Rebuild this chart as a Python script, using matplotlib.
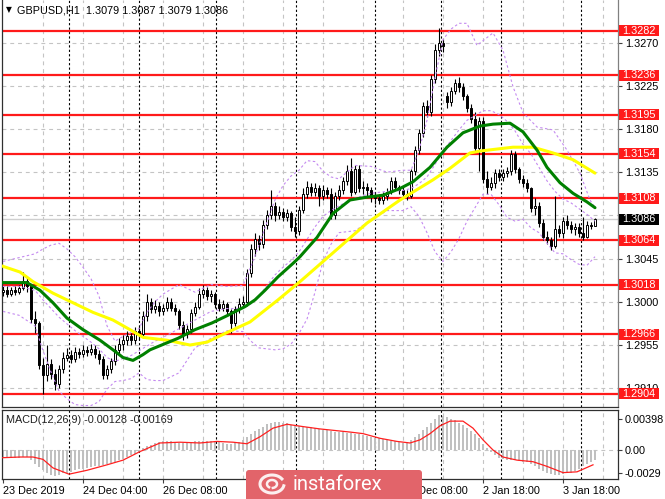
import matplotlib
matplotlib.use("Agg")
import matplotlib.pyplot as plt
import matplotlib.transforms as mtransforms
from matplotlib.patches import Rectangle, FancyBboxPatch
import numpy as np

plt.rcParams['font.family'] = ['Liberation Sans', 'DejaVu Sans']

W, H, DPI = 665, 499, 100

# ---------------- data (prices in units of 0.0001) ----------------
opens = [13010, 13012, 13008, 13012, 13010, 13014, 13022, 13016, 12982, 12978,
         12934, 12924, 12935, 12925, 12914, 12930, 12942, 12945, 12940, 12948,
         12946, 12950, 12948, 12951, 12946, 12940, 12924, 12930, 12938, 12950,
         12956, 12960, 12964, 12960, 12970, 12966, 12985, 13000, 12992, 12996,
         12990, 12994, 13000, 12994, 12990, 12976, 12966, 12972, 12988, 12995,
         13008, 13012, 13006, 13008, 12998, 12994, 12998, 12990, 12978, 12992,
         12998, 13000, 13030, 13055, 13065, 13060, 13080, 13090, 13100, 13090,
         13094, 13088, 13092, 13078, 13074, 13096, 13112, 13120, 13114, 13118,
         13110, 13116, 13112, 13090, 13110, 13116, 13126, 13136, 13114, 13138,
         13118, 13120, 13116, 13110, 13108, 13106, 13110, 13114, 13126, 13120,
         13116, 13112, 13110, 13136, 13158, 13176, 13204, 13198, 13232, 13262,
         13270, 13214, 13208, 13220, 13228, 13224, 13214, 13202, 13190, 13160,
         13188, 13128, 13120, 13124, 13134, 13130, 13134, 13136, 13154, 13138,
         13128, 13124, 13118, 13098, 13100, 13082, 13068, 13064, 13058, 13076,
         13072, 13084, 13080, 13076, 13078, 13072, 13068, 13080, 13079]
highs = [13016, 13016, 13015, 13016, 13018, 13031, 13026, 13018, 12990, 12980,
         12942, 12955, 12940, 12930, 12934, 12948, 12952, 12950, 12953, 12952,
         12955, 12954, 12956, 12955, 12950, 12944, 12934, 12942, 12955, 12962,
         12965, 12970, 12968, 12974, 12975, 12990, 13008, 13004, 13002, 13000,
         12998, 13005, 13004, 12998, 12993, 12980, 12976, 12992, 13000, 13014,
         13018, 13015, 13012, 13010, 13003, 13002, 13000, 12993, 12996, 13004,
         13006, 13034, 13060, 13072, 13070, 13085, 13096, 13116, 13104, 13100,
         13098, 13097, 13095, 13088, 13100, 13118, 13126, 13124, 13124, 13122,
         13122, 13120, 13118, 13114, 13122, 13130, 13142, 13150, 13142, 13142,
         13126, 13124, 13120, 13114, 13112, 13114, 13118, 13130, 13130, 13122,
         13120, 13116, 13138, 13162, 13180, 13208, 13210, 13236, 13268, 13285,
         13274, 13218, 13224, 13232, 13234, 13228, 13216, 13206, 13198, 13192,
         13192, 13136, 13130, 13138, 13138, 13138, 13140, 13158, 13157, 13140,
         13132, 13128, 13120, 13108, 13104, 13086, 13074, 13068, 13110, 13080,
         13088, 13090, 13084, 13082, 13082, 13088, 13084, 13083, 13087]
lows = [13006, 13005, 13006, 13007, 13008, 13012, 13010, 12978, 12968, 12930,
        12904, 12918, 12920, 12908, 12910, 12926, 12938, 12936, 12937, 12942,
        12943, 12944, 12945, 12942, 12935, 12920, 12920, 12926, 12934, 12946,
        12950, 12955, 12955, 12956, 12960, 12962, 12980, 12988, 12988, 12985,
        12986, 12990, 12990, 12986, 12972, 12960, 12962, 12968, 12985, 12992,
        13004, 13002, 13000, 12994, 12990, 12990, 12985, 12968, 12975, 12988,
        12994, 12996, 13026, 13048, 13054, 13056, 13076, 13086, 13084, 13086,
        13084, 13084, 13074, 13068, 13070, 13092, 13108, 13110, 13110, 13100,
        13106, 13108, 13086, 13086, 13106, 13112, 13122, 13110, 13112, 13114,
        13112, 13110, 13104, 13102, 13102, 13102, 13106, 13112, 13116, 13112,
        13108, 13106, 13108, 13132, 13154, 13172, 13192, 13194, 13228, 13256,
        13260, 13202, 13204, 13216, 13218, 13210, 13198, 13186, 13156, 13136,
        13124, 13112, 13116, 13118, 13126, 13126, 13130, 13132, 13134, 13124,
        13120, 13114, 13094, 13090, 13078, 13064, 13060, 13054, 13056, 13068,
        13066, 13076, 13072, 13070, 13068, 13064, 13066, 13076, 13079]
closes = [13012, 13008, 13012, 13010, 13014, 13022, 13016, 12982, 12978, 12934,
          12924, 12935, 12925, 12914, 12930, 12942, 12945, 12940, 12948, 12946,
          12950, 12948, 12951, 12946, 12940, 12924, 12930, 12938, 12950, 12956,
          12960, 12964, 12960, 12970, 12966, 12985, 13000, 12992, 12996, 12990,
          12994, 13000, 12994, 12990, 12976, 12966, 12972, 12988, 12995, 13008,
          13012, 13006, 13008, 12998, 12994, 12998, 12990, 12978, 12992, 12998,
          13000, 13030, 13055, 13065, 13060, 13080, 13090, 13100, 13090, 13094,
          13088, 13092, 13078, 13074, 13096, 13112, 13120, 13114, 13118, 13110,
          13116, 13112, 13090, 13110, 13116, 13126, 13136, 13114, 13138, 13118,
          13120, 13116, 13110, 13108, 13106, 13110, 13114, 13126, 13120, 13116,
          13112, 13110, 13136, 13158, 13176, 13204, 13198, 13232, 13262, 13270,
          13266, 13208, 13220, 13228, 13224, 13214, 13202, 13190, 13160, 13188,
          13128, 13120, 13124, 13134, 13130, 13134, 13136, 13154, 13138, 13128,
          13124, 13118, 13098, 13100, 13082, 13068, 13064, 13058, 13076, 13072,
          13084, 13080, 13076, 13078, 13072, 13068, 13080, 13079, 13086]

# moving averages (bar index, price in 0.0001)
green_idx = [-0.75, 6, 9.25, 12.5, 16, 20, 24.25, 27.5, 30, 32.5,
             35, 36.75, 43.75, 48, 52.25, 56.25, 60.5, 63, 65.5, 68.75,
             72.5, 74.25, 78.5, 82.5, 86.75, 91, 95, 99.25, 102.5, 106.75,
             111, 115, 119.25, 122.5, 126.75, 130, 133.5, 136, 139.25, 142.5,
             146, 148]
green_val = [13020, 13020, 13012, 12999, 12983, 12971, 12960, 12950, 12942, 12939,
             12945, 12950, 12962, 12971, 12978, 12986, 12995, 13002, 13012, 13026,
             13040, 13047, 13067, 13092, 13106, 13109, 13111, 13118, 13125, 13140,
             13161, 13176, 13183, 13185, 13186, 13177, 13158, 13140, 13124, 13113,
             13104, 13098]
yellow_idx = [-0.75, 4.25, 7.5, 12.5, 17.5, 22.5, 27.5, 31.75, 35, 41,
              46.75, 51, 56, 61.75, 68.75, 74.25, 82.5, 91, 99.25, 107.5,
              111.75, 116.75, 119.25, 127.5, 132.5, 137.5, 142.5, 148]
yellow_val = [13038, 13031, 13021, 13009, 12999, 12989, 12981, 12971, 12963, 12960,
              12955, 12958, 12968, 12979, 13002, 13021, 13051, 13082, 13106, 13127,
              13139, 13155, 13157, 13161, 13161, 13155, 13148, 13134]

# Bollinger bands (bar index, price offset from 1.3000 in 0.0001)
bb_idx = [0, 4, 8, 10, 12, 14, 16, 18, 20, 22,
          24, 26, 28, 30, 32, 34, 36, 38, 40, 44,
          48, 52, 56, 60, 62, 64, 66, 68, 70, 72,
          74, 76, 78, 80, 82, 84, 88, 92, 96, 100,
          102, 104, 106, 108, 110, 112, 114, 116, 118, 120,
          122, 124, 126, 128, 130, 132, 134, 136, 138, 140,
          142, 144, 146, 148]
bb_mid = [16, 16, 12, 2, -7, -16, -23, -30, -36, -42,
          -49, -58, -62, -59, -56, -51, -46, -41, -37, -28,
          -19, -10, -7, -7, -2, 6, 17, 28, 36, 43,
          52, 65, 78, 89, 95, 100, 108, 113, 115, 116,
          118, 123, 130, 143, 157, 168, 179, 189, 194, 199,
          199, 195, 188, 178, 164, 154, 140, 126, 115, 107,
          103, 97, 91, 84]
bb_low = [-10, -14, -25, -51, -73, -93, -101, -107, -108, -108,
          -104, -91, -83, -82, -80, -74, -81, -82, -82, -74,
          -48, -38, -30, -31, -41, -48, -49, -50, -49, -44,
          -33, -18, 10, 42, 60, 72, 74, 85, 95, 95,
          99, 89, 72, 52, 42, 52, 66, 84, 98, 112,
          112, 101, 88, 84, 86, 77, 72, 61, 51, 50,
          44, 39, 38, 47]
bb_up_idx = [0, 4, 8, 10, 12, 14, 16, 18, 20, 22,
             24, 26, 28, 30, 32, 34, 36, 38, 40, 44,
             48, 52, 56, 60, 62, 64, 66, 68, 70, 72,
             74, 76, 78, 80, 82, 84, 88, 92, 96, 100,
             102, 104, 106, 108, 110, 112, 114, 116, 118.5, 122.5,
             125, 127.5, 130, 133.5, 137.5, 141, 144.25, 146.75, 148]
bb_up = [42, 46, 50, 55, 59, 61, 55, 47, 36, 24,
         6, -25, -41, -36, -32, -28, -11, 0, 8, 18,
         10, 18, 16, 17, 37, 59, 83, 106, 121, 131,
         137, 147, 146, 136, 130, 128, 142, 141, 135, 137,
         137, 158, 189, 233, 273, 284, 290, 290, 267, 280,
         262, 224, 197, 182, 179, 158, 134, 106, 98]

# MACD histogram (one per bar) and signal line
macd_hist = [-0.0009, -0.0009, -0.0010, -0.0010, -0.0010, -0.0009, -0.0009,
             -0.0013, -0.0018, -0.0022, -0.0026,
             -0.0029, -0.0032, -0.0033, -0.0032,
             -0.0030, -0.0029, -0.0028, -0.0026, -0.0025,
             -0.0024, -0.0023, -0.0022, -0.0021, -0.0020, -0.0019, -0.0018, -0.0017,
             -0.0015, -0.0013, -0.0011, -0.0009, -0.0007, -0.0005,
             -0.0002, 0.0002, 0.0005, 0.0007, 0.0009,
             0.0010, 0.0011, 0.0011, 0.0011, 0.0010, 0.0009, 0.0009, 0.0009,
             0.0010, 0.0011, 0.0012, 0.0012, 0.0012, 0.0011, 0.0011, 0.0010, 0.0009, 0.0008, 0.0008, 0.0009,
             0.0010, 0.0013, 0.0017, 0.0021, 0.0024, 0.0027, 0.0030, 0.0033,
             0.0035, 0.0036, 0.0036, 0.0035, 0.0034,
             0.0032, 0.0031, 0.0031, 0.0030, 0.0030, 0.0029, 0.0028, 0.0027, 0.0026, 0.0025, 0.0024,
             0.0023, 0.0023, 0.0023, 0.0022, 0.0022, 0.0021, 0.0020, 0.0019, 0.0018, 0.0017, 0.0016, 0.0015,
             0.0014, 0.0013, 0.0012, 0.0011, 0.0010, 0.0009, 0.0010, 0.0013, 0.0017,
             0.0021, 0.0025, 0.0030, 0.0035, 0.0040, 0.0045,
             0.0044, 0.0042, 0.0040, 0.0038,
             0.0035, 0.0032, 0.0028, 0.0024, 0.0020, 0.0015,
             0.0008, 0.0002, -0.0003, -0.0007, -0.0010,
             -0.0012, -0.0013, -0.0013, -0.0013, -0.0014, -0.0015, -0.0016,
             -0.0018, -0.0021, -0.0024, -0.0027, -0.0029, -0.0031, -0.0032,
             -0.0032, -0.0031, -0.0030, -0.0029, -0.0027,
             -0.0024, -0.0021, -0.0018, -0.0015, -0.0013]
sig_idx = [-0.75, 4.25, 7.5, 10, 12.5, 16.5, 21, 26, 30, 34.25,
           39.25, 44.25, 49.25, 53.5, 57.5, 61, 64.25, 67.5, 71, 75,
           79.25, 86.75, 90, 94.25, 98.5, 101.75, 104.25, 106.75, 109.25, 111.75,
           115, 117.5, 120, 122.5, 125, 128.5, 132.5, 136, 140, 143.5, 147.5]
sig_val = [-0.0010, -0.0009, -0.0009, -0.0012, -0.0023, -0.0031, -0.0026, -0.0019, -0.0013, -0.0002,
           0.0009, 0.0010, 0.0009, 0.0011, 0.0010, 0.0008, 0.0017, 0.0028, 0.0033, 0.0030,
           0.0027, 0.0023, 0.0021, 0.0015, 0.0011, 0.0009, 0.0013, 0.0021, 0.0031, 0.0037,
           0.0037, 0.0028, 0.0013, 0.0000, -0.0009, -0.0013, -0.0015, -0.0021, -0.0029, -0.0028,
           -0.0019]

levels = [1.3282, 1.3236, 1.3195, 1.3154, 1.3108, 1.3064, 1.3018, 1.2966, 1.2904]
price_ticks = [1.3270, 1.3225, 1.3180, 1.3135, 1.3090, 1.3045, 1.3000, 1.2955, 1.2910]
hidden_ticks = [1.3090]          # label fully covered by the last-price box
last_price = 1.3086
time_label_bars = [0, 20, 40, 100, 120, 140]
time_labels = ['23 Dec 2019', '24 Dec 04:00', '26 Dec 08:00', '31 Dec 08:00',
               '2 Jan 18:00', '3 Jan 18:00']
day_sep_bars = [16.5, 34, 53.25, 73.25, 93, 109.5, 124.5, 144.5]
grid_bars = list(range(10, 160, 10))
macd_ticks = [0.00398, 0.0, -0.0029]
macd_ticklabels = ['0.00398', '0.00', '-0.0029']
title_text = 'GBPUSD,H1  1.3079 1.3087 1.3079 1.3086'
macd_text = 'MACD(12,26,9) -0.00128 -0.00169'

# ---------------- figure layout ----------------
fig = plt.figure(figsize=(W / DPI, H / DPI), dpi=DPI)
fig.patch.set_facecolor('white')
PL, PR = 2, 618
ax = fig.add_axes([PL / W, 1 - 407 / H, (PR - PL) / W, 407 / H])
axm = fig.add_axes([PL / W, 1 - 479 / H, (PR - PL) / W, (479 - 410) / H])

XMIN, XMAX = -0.25, 153.75
FS = 7.8
GRID_C = '#c4c4c4'

for a in (ax, axm):
    a.set_xlim(XMIN, XMAX)
    a.set_facecolor('white')
    for b in grid_bars:
        a.axvline(b, color=GRID_C, lw=0.8, dashes=(3.5, 3.5), zorder=0)
    for b in day_sep_bars:
        a.axvline(b, color='black', lw=0.8, dashes=(2, 2), zorder=0.5)

ax.set_ylim(1.289046, 1.331428)
for t in price_ticks:
    ax.axhline(t, color=GRID_C, lw=0.8, dashes=(3.5, 3.5), zorder=0)

# bid line
ax.axhline(last_price, color='#cfcfcf', lw=1.0, zorder=1)

# red levels
for lv in levels:
    ax.axhline(lv, color='#ff1a1a', lw=1.6, zorder=2)

# candles
o = np.array(opens) / 10000.0
h = np.array(highs) / 10000.0
l = np.array(lows) / 10000.0
c = np.array(closes) / 10000.0
xs = np.arange(len(o))
ax.vlines(xs, l, h, color='black', lw=0.8, zorder=3)
bull = c >= o
bot = np.minimum(o, c)
hgt = np.maximum(np.abs(c - o), 0.00003)
ax.bar(xs[bull], hgt[bull], bottom=bot[bull], width=0.55, facecolor='white',
       edgecolor='black', linewidth=0.7, zorder=4)
ax.bar(xs[~bull], hgt[~bull], bottom=bot[~bull], width=0.55, facecolor='black',
       edgecolor='black', linewidth=0.7, zorder=4)

# Bollinger bands
BB_C = '#c48af0'
for ix, vals in ((bb_idx, bb_mid), (bb_idx, bb_low), (bb_up_idx, bb_up)):
    ax.plot(ix, 1.3 + np.array(vals) / 10000.0, color=BB_C, lw=0.8,
            dashes=(2.2, 2.2), zorder=5)

# moving averages
ax.plot(yellow_idx, np.array(yellow_val) / 10000.0, color='#ffff00', lw=2.2,
        solid_capstyle='round', zorder=6)
ax.plot(green_idx, np.array(green_val) / 10000.0, color='#008000', lw=2.2,
        solid_capstyle='round', zorder=7)

# axes styling (price)
ax.yaxis.tick_right()
ax.set_yticks(price_ticks)
ax.set_yticklabels(['' if t in hidden_ticks else '%.4f' % t for t in price_ticks])
ax.tick_params(axis='y', direction='out', length=3, width=0.8, color='#404040',
               labelsize=FS, pad=2, labelcolor='black')
ax.set_xticks([])
ax.spines['top'].set_visible(False)
ax.spines['left'].set_color('#303030')
ax.spines['right'].set_color('#808080')
ax.spines['bottom'].set_color('#303030')
for s in ax.spines.values():
    s.set_linewidth(0.9)

# price boxes
trans = mtransforms.blended_transform_factory(ax.transAxes, ax.transData)
bx0 = (619 - PL) / (PR - PL)
bw = 40 / (PR - PL)
hh = 5.5 / 9603.0
tx = (622 - PL) / (PR - PL)
for lv in levels:
    ax.add_patch(Rectangle((bx0, lv - hh), bw, 2 * hh, transform=trans,
                           facecolor='#ff1a1a', edgecolor='none', clip_on=False, zorder=20))
    ax.text(tx, lv, '%.4f' % lv, transform=trans, color='white', fontsize=FS,
            va='center', ha='left', clip_on=False, zorder=21)
ax.add_patch(Rectangle((bx0, last_price - hh), bw, 2 * hh, transform=trans,
                       facecolor='black', edgecolor='none', clip_on=False, zorder=20))
ax.text(tx, last_price, '%.4f' % last_price, transform=trans, color='white',
        fontsize=FS, va='center', ha='left', clip_on=False, zorder=21)

# MACD panel
axm.set_ylim(-0.003718, 0.005128)
axm.axhline(0, color=GRID_C, lw=0.8, dashes=(3.5, 3.5), zorder=0)
axm.bar(np.arange(len(macd_hist)), macd_hist, width=0.5, color='#c0c0c0',
        edgecolor='none', zorder=2)
axm.plot(sig_idx, sig_val, color='#ff2020', lw=0.9, zorder=3)
axm.yaxis.tick_right()
axm.set_yticks(macd_ticks)
axm.set_yticklabels(macd_ticklabels)
axm.tick_params(axis='y', direction='out', length=3, width=0.8, color='#404040',
                labelsize=FS, pad=2)
axm.set_xticks(time_label_bars)
axm.set_xticklabels(time_labels)
for lbl in axm.get_xticklabels():
    lbl.set_ha('left')
axm.tick_params(axis='x', direction='out', length=3, width=0.8, color='#404040',
                labelsize=FS, pad=2)
for s in axm.spines.values():
    s.set_color('#303030')
    s.set_linewidth(0.9)

# ---------------- overlay (texts / logo) ----------------
ov = fig.add_axes([0, 0, 1, 1], zorder=10)
ov.set_xlim(0, W)
ov.set_ylim(H, 0)
ov.axis('off')
ov.patch.set_alpha(0)

ov.text(6, 10, '\u25BC', fontsize=5.5, color='black', va='center', ha='left',
        family=['DejaVu Sans'])
ov.text(17, 10, title_text, fontsize=FS, color='black', va='center', ha='left')
ov.text(6, 420, macd_text, fontsize=FS, color='#202020', va='center', ha='left')

# instaforex logo
ov.add_patch(FancyBboxPatch((246, 470), 176, 32, boxstyle='round,pad=0,rounding_size=3',
                            facecolor='#e2646a', edgecolor='none'))
ang = np.linspace(0.2, 2 * np.pi - 0.6, 60)
ov.plot(272 + 12 * np.cos(ang), 484 + 9 * np.sin(ang), color='white', lw=2.2, alpha=0.9)
ov.plot(272 + 5 * np.cos(ang + 2), 484 + 4 * np.sin(ang + 2), color='white', lw=1.8, alpha=0.9)
ov.text(293, 484, 'instaforex', fontsize=14.5, color='white', va='center', ha='left',
        family=['Roboto', 'DejaVu Sans'])

fig.savefig('out.png', dpi=DPI, facecolor='white')
